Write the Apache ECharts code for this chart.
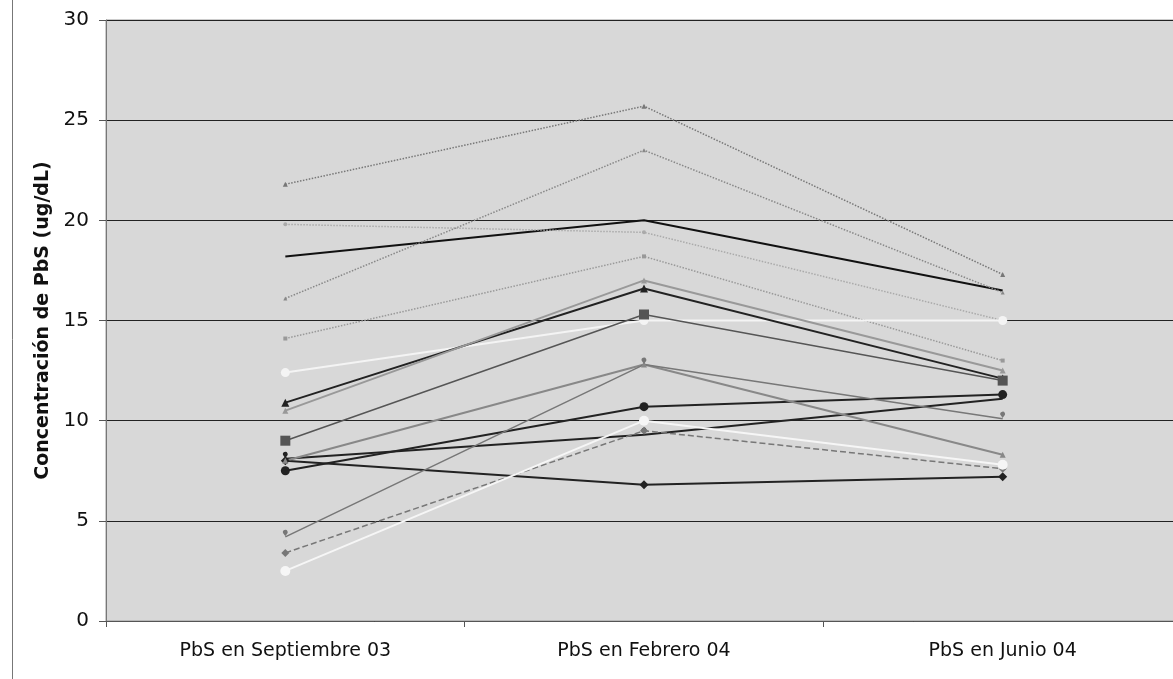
<!DOCTYPE html>
<html><head><meta charset="utf-8">
<script src="https://cdn.jsdelivr.net/npm/echarts@6/dist/echarts.min.js"></script>
<style>html,body{margin:0;padding:0;background:#fff;overflow:hidden;width:1173px;height:679px}#c{width:1182px;height:679px}</style>
</head><body><div id="c"></div>
<script>
const categories = ['PbS en Septiembre 03', 'PbS en Febrero 04', 'PbS en Junio 04'];
const yTicks = [0, 5, 10, 15, 20, 25, 30];
const s1 = [21.8, 25.7, 17.3];
const s2 = [18.2, 20.0, 16.5];
const s3 = [19.8, 19.4, 15.0];
const s4 = [16.1, 23.5, 16.4];
const s5 = [14.1, 18.2, 13.0];
const s6 = [12.4, 15.0, 15.0];
const s7 = [10.9, 16.6, 12.1];
const s8 = [10.5, 17.0, 12.5];
const s9 = [9.0, 15.3, 12.0];
const s10 = [8.1, 9.3, 11.1];
const s11 = [7.5, 10.7, 11.3];
const s12 = [8.0, 6.8, 7.2];
const s13 = [8.0, 12.8, 8.3];
const s14 = [4.2, 12.8, 10.1];
const s15 = [3.4, 9.5, 7.6];
const s16 = [2.5, 10.0, 7.8];

const styles = [
  [s1, '#777', 'dotted', 1.5, 'triangle', 5],
  [s2, '#111', 'solid', 2, 'none', 0],
  [s3, '#aaa', 'dotted', 1.5, 'circle', 4],
  [s4, '#888', 'dotted', 1.5, 'triangle', 4],
  [s5, '#999', 'dotted', 1.5, 'rect', 4],
  [s6, '#f4f4f4', 'solid', 2, 'circle', 9],
  [s7, '#222', 'solid', 2, 'triangle', 8],
  [s8, '#999', 'solid', 2, 'triangle', 6],
  [s9, '#555', 'solid', 1.5, 'rect', 10],
  [s10, '#222', 'solid', 2, 'pin', 8],
  [s11, '#222', 'solid', 2, 'circle', 9],
  [s12, '#222', 'solid', 2, 'diamond', 9],
  [s13, '#888', 'solid', 2, 'triangle', 6],
  [s14, '#777', 'solid', 1.5, 'pin', 8],
  [s15, '#777', 'dashed', 1.5, 'diamond', 8],
  [s16, '#f6f6f6', 'solid', 2, 'circle', 10]
];

const series = styles.map(([d, c, t, w, sym, sz]) => ({
  type: 'line', data: d, symbol: sym, symbolSize: sz, showSymbol: sym !== 'none',
  lineStyle: {color: c, type: t, width: w}, itemStyle: {color: c},
  animation: false, z: 3
}));

const chart = echarts.init(document.getElementById('c'), null, {renderer: 'canvas'});
chart.setOption({
  animation: false,
  graphic: [
    {type: 'line', shape: {x1: 12.5, y1: 0, x2: 12.5, y2: 679}, style: {stroke: '#777', lineWidth: 1}, z: 10}
  ],
  grid: {left: 106, right: 0, top: 20, bottom: 58, show: true, backgroundColor: '#d8d8d8', borderColor: '#999', borderWidth: 1},
  xAxis: {
    type: 'category', data: categories, boundaryGap: true,
    axisLine: {lineStyle: {color: '#555', width: 1}},
    axisTick: {show: true, length: 6, lineStyle: {color: '#555'}},
    axisLabel: {color: '#111', fontFamily: 'DejaVu Sans', fontSize: 19, margin: 21}
  },
  yAxis: {
    type: 'value', min: yTicks[0], max: yTicks[yTicks.length - 1], interval: 5,
    name: 'Concentración de PbS (ug/dL)', nameLocation: 'middle', nameGap: 52,
    nameTextStyle: {fontFamily: 'DejaVu Sans', fontSize: 19, fontWeight: 'bold', color: '#111'},
    axisLine: {show: true, lineStyle: {color: '#777'}},
    axisTick: {show: true, length: 7, lineStyle: {color: '#555'}},
    axisLabel: {color: '#111', fontFamily: 'DejaVu Sans', fontSize: 20, margin: 17},
    splitLine: {show: true, lineStyle: {color: '#222', width: 1}}
  },
  series: series
});
</script></body></html>
